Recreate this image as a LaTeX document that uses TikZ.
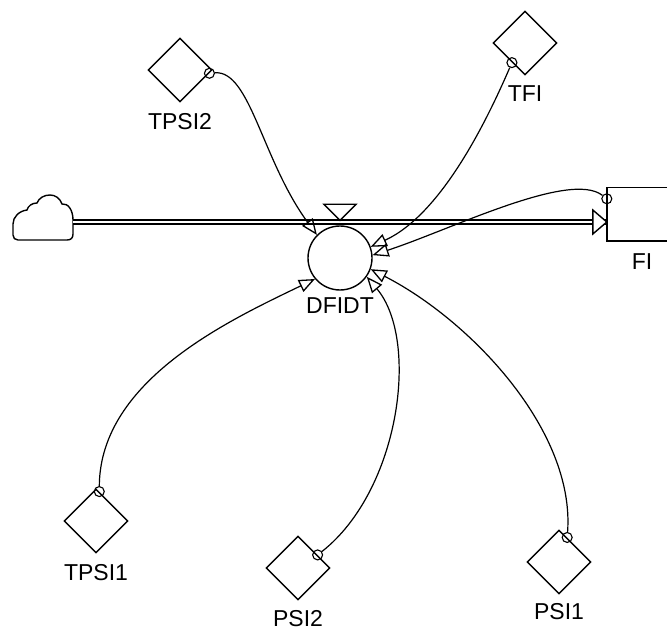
\documentclass[tikz,border=0pt]{standalone}
\usepackage{fontspec}
\setmainfont{Liberation Sans}
\usepackage{tikz}
\usetikzlibrary{shapes.geometric, arrows.meta, calc}
\usetikzlibrary{positioning}
\tikzstyle{aux} = [diamond, minimum width=64pt, minimum height=64pt, inner sep=0pt,
draw=black, line width=1.4pt]
\tikzstyle{rate} = [circle, minimum size=64pt, inner sep=0pt, draw=black, line width=1.4pt]
\tikzstyle{stock} = [rectangle, minimum width=70pt, minimum height=53pt, inner sep=0pt]
\tikzstyle{lbl} = [font=\fontsize{23}{26}\selectfont, inner sep=0pt]
\tikzstyle{tap} = [circle, minimum size=10pt, inner sep=0pt, draw=black, line width=1.1pt]
\tikzstyle{link} = [line width=1.2pt, -{Triangle[open, length=16pt, width=13pt, line width=1.3pt]}]
\tikzstyle{pipe} = [double, double distance=2.5pt, line width=1.3pt]
\tikzstyle{valve} = [line width=1.4pt, fill=white]

\begin{document}
\begin{tikzpicture}[x=1pt, y=-1pt]
    \useasboundingbox (0,0) rectangle (667,631);
    \clip (0,0) rectangle (667,631);
    % stock, rate and converters
    \node (fi) [stock] at (642,214.5) {};
    \draw[line width=1.4pt] (fi.north east) ++(20,0) -- (fi.north west) -- (fi.south west) -- ++(90,0);
    \node (dfidt) [rate] at (340,258) {};
    \node (tpsi2) [aux] at (180,70) {};
    \node (tfi) [aux] at (525,43) {};
    \node (tpsi1) [aux] at (96,521) {};
    \node (psi2) [aux] at (298,568) {};
    \node (psi1) [aux] at (559,562) {};

    \node (fil) [lbl, below=12pt of fi] {FI};
    \node (dfidtl) [lbl, below=7pt of dfidt] {DFIDT};
    \node (tpsi2l) [lbl, below=11pt of tpsi2] {TPSI2};
    \node (tfil) [lbl, below=10pt of tfi] {TFI};
    \node (tpsi1l) [lbl, below=11pt of tpsi1] {TPSI1};
    \node (psi2l) [lbl, below=10pt of psi2] {PSI2};
    \node (psi1l) [lbl, below=9pt of psi1] {PSI1};

    % taps
    \node (tpsi2o) [tap] at ($(tpsi2.east)!0.1!(tpsi2.south)$) {};
    \node (tfio) [tap] at ($(tfi.west)!0.6!(tfi.south)$) {};
    \node (tpsi1o) [tap] at ($(tpsi1.north)!0.1!(tpsi1.east)$) {};
    \node (psi2o) [tap] at ($(psi2.north)!0.6!(psi2.east)$) {};
    \node (psi1o) [tap] at ($(psi1.north)!0.25!(psi1.east)$) {};
    \node (fio) [tap] at ([yshift=-11pt]fi.north west) {};

    % source cloud
    \draw[line width=1.4pt] (18,240) -- (67,240) .. controls (71,240) and (73,238) .. (73,234)
      -- (73,220) .. controls (73,210) and (68,203) .. (62,204)
      .. controls (60,198) and (55,195) .. (50,195)
      .. controls (44,195) and (39,198) .. (37,203)
      .. controls (32,203) and (28,206) .. (27,210)
      .. controls (19,211) and (13,217) .. (13,224)
      -- (13,235) .. controls (13,238) and (15,240) .. (18,240) -- cycle;
    \coordinate (cloud) at (73,222);

    % flow
    \draw[pipe] (cloud) -- (cloud -| fi.west);
    \draw[valve] (cloud -| fi.west) -- ++(-14,-12) -- ++(0,24) -- cycle;
    \draw[valve] ([yshift=5pt]dfidt.north) -- ++(-16,-16) -- ++(32,0) -- cycle;

    % links
    \draw[link] (tpsi2o) .. controls (250,70) and (262,160) .. (dfidt.135);
    \draw[link] (tfio) .. controls (485,125) and (440,215) .. (dfidt.20);
    \draw[link] (fio) .. controls (570,170) and (450,230) .. (dfidt.5);
    \draw[link] (psi1o) .. controls (575,430) and (470,320) .. (dfidt.-20);
    \draw[link] (psi2o) .. controls (400,490) and (420,340) .. (dfidt.-35);
    \draw[link] (tpsi1o) .. controls (100,380) and (230,320) .. (dfidt.-140);
\end{tikzpicture}
\end{document}
